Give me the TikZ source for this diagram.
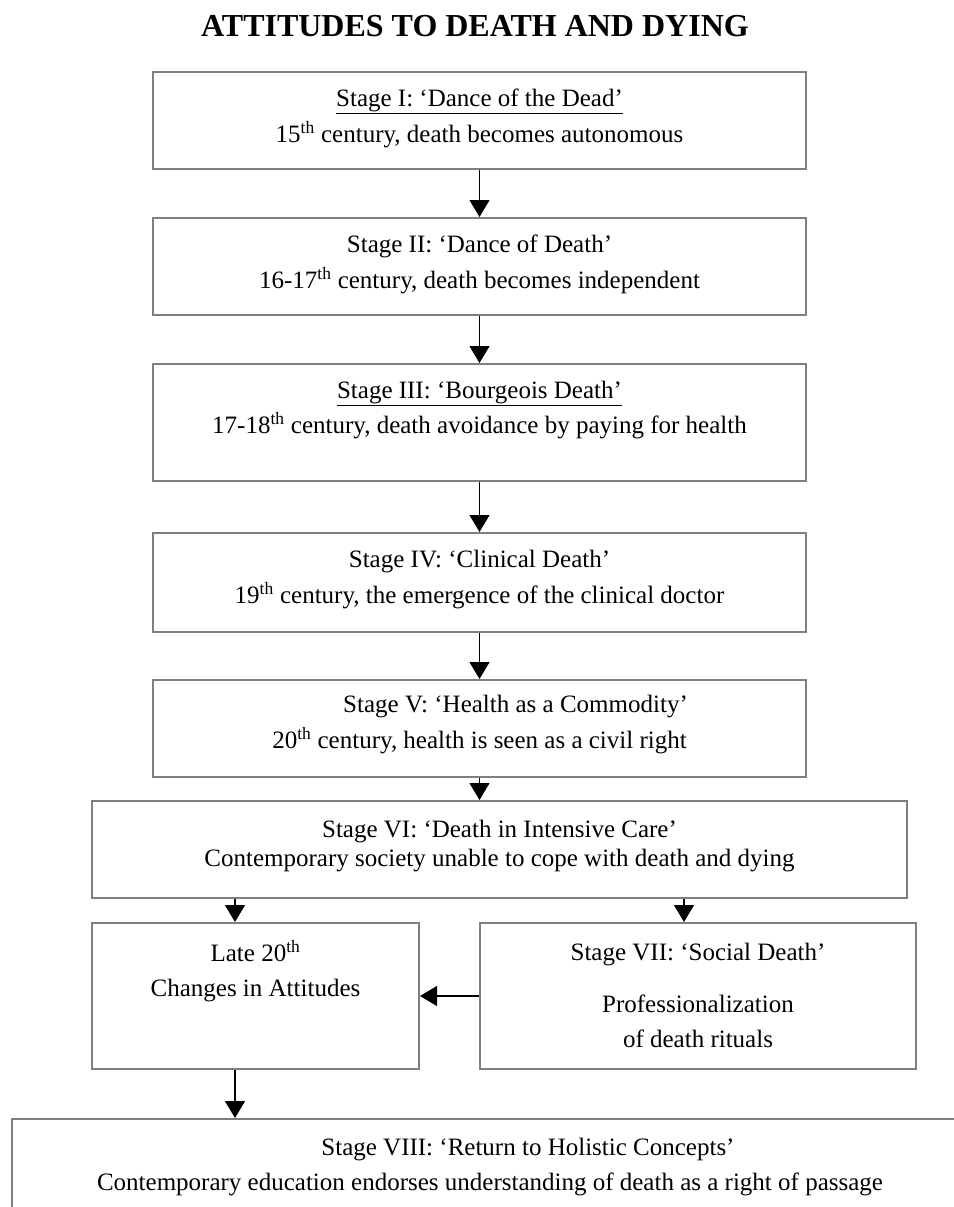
\documentclass[tikz,border=0pt]{standalone}
\usepackage{fontspec}
\setmainfont{Liberation Serif}
\usetikzlibrary{arrows.meta}
\usetikzlibrary{positioning}
\definecolor{boxgray}{HTML}{7F7F7F}
\tikzstyle{stagebox}=[draw=boxgray,line width=2pt,inner sep=0pt]
\tikzstyle{stagetext}=[align=center,inner sep=0pt,font=\fontsize{25}{29}\selectfont]
\tikzstyle{flow}=[-{Triangle[length=17pt,width=20pt]},line width=1.2pt]
\newcommand{\cent}[1]{#1\textsuperscript{th}} % ordinal as printed

\begin{document}
\begin{tikzpicture}[x=1pt,y=-1pt]
	\useasboundingbox (0,0) rectangle (953,1207);
	\node[font=\bfseries\fontsize{32}{36}\selectfont,anchor=base] (title) at (475,37) {ATTITUDES TO DEATH AND DYING};
	% the eight stages
	\node[stagebox,minimum width=653pt,minimum height=97pt] (s1) at (479.5,120.5) {};
	\node[stagebox,minimum width=653pt,minimum height=97pt] (s2) at (479.5,266.5) {};
	\node[stagebox,minimum width=653pt,minimum height=117pt] (s3) at (479.5,422.5) {};
	\node[stagebox,minimum width=653pt,minimum height=99pt] (s4) at (479.5,582.5) {};
	\node[stagebox,minimum width=653pt,minimum height=97pt] (s5) at (479.5,728.5) {};
	\node[stagebox,minimum width=815pt,minimum height=97pt] (s6) at (499.5,849.5) {};
	\node[stagebox,minimum width=327pt,minimum height=146pt] (late) at (255.5,996) {};
	\node[stagebox,minimum width=436pt,minimum height=146pt] (s7) at (698,996) {};
	\node[stagebox,minimum width=956pt,minimum height=130pt,anchor=north west] (s8) at (11,1118) {};
	%
	\node[stagetext,below=18pt of s1.north] (t1) {\underline{Stage I: ‘Dance of the Dead’}\\[7pt]\cent{15} century, death becomes autonomous};
	\node[stagetext,below=18pt of s2.north] (t2) {Stage II: ‘Dance of Death’\\[7pt]\cent{16-17} century, death becomes independent};
	\node[stagetext,below=18pt of s3.north] (t3) {\underline{Stage III: ‘Bourgeois Death’}\\[6pt]\cent{17-18} century, death avoidance by paying for health};
	\node[stagetext,below=18pt of s4.north] (t4) {Stage IV: ‘Clinical Death’\\[7pt]\cent{19} century, the emergence of the clinical doctor};
	\node[stagetext,below=16pt of s5.north] (t5) {\hspace*{72pt}Stage V: ‘Health as a Commodity’\\[7pt]\cent{20} century, health is seen as a civil right};
	\node[stagetext,below=20pt of s6.north] (t6) {Stage VI: ‘Death in Intensive Care’\\Contemporary society unable to cope with death and dying};
	\node[stagetext,below=18pt of late.north] (t7) {Late \cent{20}\\[6pt]Changes in Attitudes};
	\node[stagetext,below=21pt of s7.north] (t8) {Stage VII: ‘Social Death’\\[23pt]Professionalization\\[6pt]of death rituals};
	\node[stagetext,below=20pt of s8.north] (t9) {\hspace*{76pt}Stage VIII: ‘Return to Holistic Concepts’\\[6pt]Contemporary education endorses understanding of death as a right of passage};
	% connectors
	\coordinate (lx) at (235,0);
	\coordinate (rx) at (684,0);
	\draw[flow] (s1) -- (s2);
	\draw[flow] (s2) -- (s3);
	\draw[flow] (s3) -- (s4);
	\draw[flow] (s4) -- (s5);
	\draw[flow] (s5.south) -- (s5.south |- s6.north);
	\draw[flow] (lx |- s6.south) -- (lx |- late.north);
	\draw[flow] (rx |- s6.south) -- (rx |- s7.north);
	\draw[flow] (s7.west) -- (late.east);
	\draw[flow] (lx |- late.south) -- (lx |- s8.north);
\end{tikzpicture}
\end{document}
